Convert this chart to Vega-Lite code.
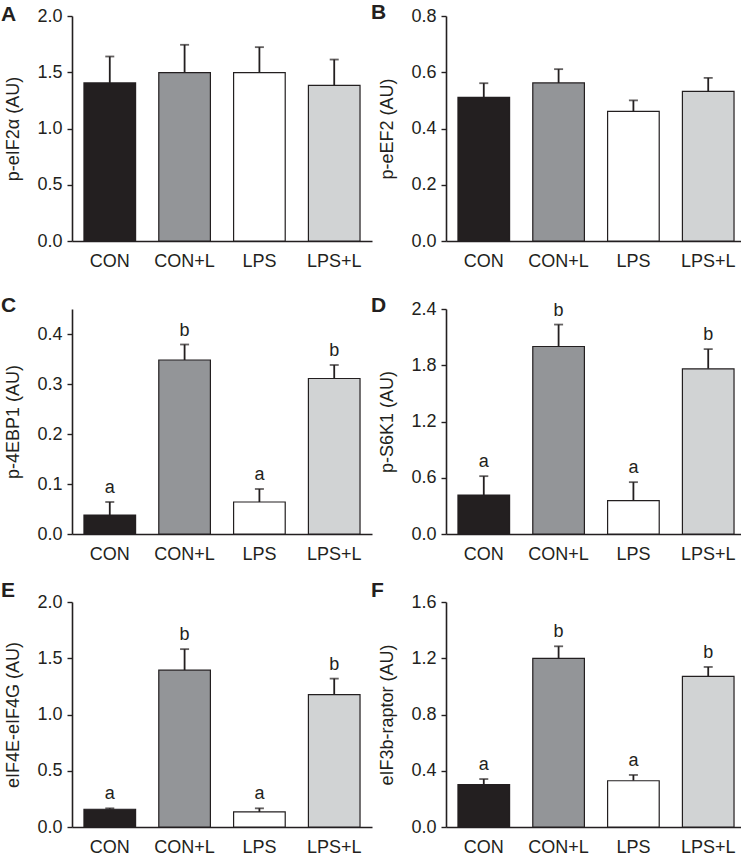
{
  "$schema": "https://vega.github.io/schema/vega-lite/v6.json",
  "padding": {"left": 0, "top": 2, "right": 0, "bottom": 0},
  "background": "white",
  "config": {
    "view": {"stroke": null},
    "font": "Liberation Sans",
    "axis": {
      "grid": false,
      "domainColor": "#231f20",
      "domainWidth": 1.6,
      "tickColor": "#231f20",
      "tickWidth": 1.4,
      "tickSize": 5,
      "labelFont": "Liberation Sans",
      "labelFontSize": 18,
      "labelColor": "#231f20",
      "titleFont": "Liberation Sans",
      "titleFontSize": 18,
      "titleFontWeight": "normal",
      "titleColor": "#231f20"
    },
    "title": {"font": "Liberation Sans", "fontSize": 21, "fontWeight": "bold", "color": "#231f20", "anchor": "start", "frame": "bounds", "offset": 0}
  },
  "data": {"values": [
    {"panel": "A", "group": "CON", "mean": 1.405, "upper": 1.64, "letter": ""},
    {"panel": "A", "group": "CON+L", "mean": 1.497, "upper": 1.744, "letter": ""},
    {"panel": "A", "group": "LPS", "mean": 1.497, "upper": 1.723, "letter": ""},
    {"panel": "A", "group": "LPS+L", "mean": 1.384, "upper": 1.613, "letter": ""},
    {"panel": "B", "group": "CON", "mean": 0.511, "upper": 0.561, "letter": ""},
    {"panel": "B", "group": "CON+L", "mean": 0.562, "upper": 0.611, "letter": ""},
    {"panel": "B", "group": "LPS", "mean": 0.461, "upper": 0.5, "letter": ""},
    {"panel": "B", "group": "LPS+L", "mean": 0.532, "upper": 0.58, "letter": ""},
    {"panel": "C", "group": "CON", "mean": 0.038, "upper": 0.064, "letter": "a"},
    {"panel": "C", "group": "CON+L", "mean": 0.348, "upper": 0.379, "letter": "b"},
    {"panel": "C", "group": "LPS", "mean": 0.064, "upper": 0.09, "letter": "a"},
    {"panel": "C", "group": "LPS+L", "mean": 0.311, "upper": 0.338, "letter": "b"},
    {"panel": "D", "group": "CON", "mean": 0.415, "upper": 0.617, "letter": "a"},
    {"panel": "D", "group": "CON+L", "mean": 2.0, "upper": 2.234, "letter": "b"},
    {"panel": "D", "group": "LPS", "mean": 0.355, "upper": 0.553, "letter": "a"},
    {"panel": "D", "group": "LPS+L", "mean": 1.762, "upper": 1.972, "letter": "b"},
    {"panel": "E", "group": "CON", "mean": 0.158, "upper": 0.166, "letter": "a"},
    {"panel": "E", "group": "CON+L", "mean": 1.394, "upper": 1.581, "letter": "b"},
    {"panel": "E", "group": "LPS", "mean": 0.134, "upper": 0.166, "letter": "a"},
    {"panel": "E", "group": "LPS+L", "mean": 1.177, "upper": 1.319, "letter": "b"},
    {"panel": "F", "group": "CON", "mean": 0.301, "upper": 0.341, "letter": "a"},
    {"panel": "F", "group": "CON+L", "mean": 1.199, "upper": 1.285, "letter": "b"},
    {"panel": "F", "group": "LPS", "mean": 0.329, "upper": 0.37, "letter": "a"},
    {"panel": "F", "group": "LPS+L", "mean": 1.071, "upper": 1.138, "letter": "b"}
  ]},
  "columns": 2,
  "bounds": "flush",
  "spacing": {"row": 68, "column": 74},
  "resolve": {"scale": {"fill": "shared"}},
  "concat": [
    {
      "title": {"text": "A", "dy": 22, "dx": -4},
      "width": 300, "height": 225,
      "transform": [{"filter": "datum.panel == 'A'"}],
      "encoding": {"x": {"field": "group", "type": "nominal", "sort": ["CON", "CON+L", "LPS", "LPS+L"], "scale": {"paddingInner": 0.31, "paddingOuter": 0.16}, "axis": {"title": null, "ticks": false, "labelAngle": 0, "labelPadding": 11}}},
      "layer": [
        {"mark": {"type": "rule", "color": "#231f20", "strokeWidth": 1.8}, "encoding": {"y": {"field": "mean", "type": "quantitative", "scale": {"domain": [0, 2], "nice": false}, "axis": {"title": "p-eIF2α (AU)", "values": [0, 0.25, 0.5, 0.75, 1, 1.25, 1.5, 1.75, 2], "labelExpr": "round(datum.value / 0.25) % 2 == 0 ? format(datum.value, '.1f') : ''", "labelOverlap": false, "labelPadding": 5, "titlePadding": 14}}, "y2": {"field": "upper"}}},
        {"mark": {"type": "tick", "color": "#231f20", "thickness": 1.8, "size": 9}, "encoding": {"y": {"field": "upper", "type": "quantitative"}}},
        {"mark": {"type": "bar", "stroke": "#231f20", "strokeWidth": 1.2}, "encoding": {"y": {"field": "mean", "type": "quantitative"}, "fill": {"field": "group", "type": "nominal", "scale": {"domain": ["CON", "CON+L", "LPS", "LPS+L"], "range": ["#231f20", "#939598", "#ffffff", "#d1d3d4"]}, "legend": null}}},
        {"mark": {"type": "text", "baseline": "bottom", "dy": -5, "fontSize": 18, "color": "#231f20", "font": "Liberation Sans"}, "encoding": {"y": {"field": "upper", "type": "quantitative"}, "text": {"field": "letter"}}}
      ]
    },
    {
      "title": {"text": "B", "dy": 20, "dx": -8},
      "width": 300, "height": 225,
      "transform": [{"filter": "datum.panel == 'B'"}],
      "encoding": {"x": {"field": "group", "type": "nominal", "sort": ["CON", "CON+L", "LPS", "LPS+L"], "scale": {"paddingInner": 0.31, "paddingOuter": 0.16}, "axis": {"title": null, "ticks": false, "labelAngle": 0, "labelPadding": 11}}},
      "layer": [
        {"mark": {"type": "rule", "color": "#231f20", "strokeWidth": 1.8}, "encoding": {"y": {"field": "mean", "type": "quantitative", "scale": {"domain": [0, 0.8], "nice": false}, "axis": {"title": "p-eEF2 (AU)", "values": [0, 0.1, 0.2, 0.3, 0.4, 0.5, 0.6, 0.7, 0.8], "labelExpr": "round(datum.value / 0.1) % 2 == 0 ? format(datum.value, '.1f') : ''", "labelOverlap": false, "labelPadding": 5, "titlePadding": 14}}, "y2": {"field": "upper"}}},
        {"mark": {"type": "tick", "color": "#231f20", "thickness": 1.8, "size": 9}, "encoding": {"y": {"field": "upper", "type": "quantitative"}}},
        {"mark": {"type": "bar", "stroke": "#231f20", "strokeWidth": 1.2}, "encoding": {"y": {"field": "mean", "type": "quantitative"}, "fill": {"field": "group", "type": "nominal", "scale": {"domain": ["CON", "CON+L", "LPS", "LPS+L"], "range": ["#231f20", "#939598", "#ffffff", "#d1d3d4"]}, "legend": null}}},
        {"mark": {"type": "text", "baseline": "bottom", "dy": -5, "fontSize": 18, "color": "#231f20", "font": "Liberation Sans"}, "encoding": {"y": {"field": "upper", "type": "quantitative"}, "text": {"field": "letter"}}}
      ]
    },
    {
      "title": {"text": "C", "dy": 11, "dx": -4},
      "width": 300, "height": 225,
      "transform": [{"filter": "datum.panel == 'C'"}],
      "encoding": {"x": {"field": "group", "type": "nominal", "sort": ["CON", "CON+L", "LPS", "LPS+L"], "scale": {"paddingInner": 0.31, "paddingOuter": 0.16}, "axis": {"title": null, "ticks": false, "labelAngle": 0, "labelPadding": 11}}},
      "layer": [
        {"mark": {"type": "rule", "color": "#231f20", "strokeWidth": 1.8}, "encoding": {"y": {"field": "mean", "type": "quantitative", "scale": {"domain": [0, 0.45], "nice": false}, "axis": {"title": "p-4EBP1 (AU)", "values": [0, 0.05, 0.1, 0.15, 0.2, 0.25, 0.3, 0.35, 0.4, 0.45], "labelExpr": "round(datum.value / 0.05) % 2 == 0 ? format(datum.value, '.1f') : ''", "labelOverlap": false, "labelPadding": 5, "titlePadding": 14}}, "y2": {"field": "upper"}}},
        {"mark": {"type": "tick", "color": "#231f20", "thickness": 1.8, "size": 9}, "encoding": {"y": {"field": "upper", "type": "quantitative"}}},
        {"mark": {"type": "bar", "stroke": "#231f20", "strokeWidth": 1.2}, "encoding": {"y": {"field": "mean", "type": "quantitative"}, "fill": {"field": "group", "type": "nominal", "scale": {"domain": ["CON", "CON+L", "LPS", "LPS+L"], "range": ["#231f20", "#939598", "#ffffff", "#d1d3d4"]}, "legend": null}}},
        {"mark": {"type": "text", "baseline": "bottom", "dy": -5, "fontSize": 18, "color": "#231f20", "font": "Liberation Sans"}, "encoding": {"y": {"field": "upper", "type": "quantitative"}, "text": {"field": "letter"}}}
      ]
    },
    {
      "title": {"text": "D", "dy": 20, "dx": -8},
      "width": 300, "height": 225,
      "transform": [{"filter": "datum.panel == 'D'"}],
      "encoding": {"x": {"field": "group", "type": "nominal", "sort": ["CON", "CON+L", "LPS", "LPS+L"], "scale": {"paddingInner": 0.31, "paddingOuter": 0.16}, "axis": {"title": null, "ticks": false, "labelAngle": 0, "labelPadding": 11}}},
      "layer": [
        {"mark": {"type": "rule", "color": "#231f20", "strokeWidth": 1.8}, "encoding": {"y": {"field": "mean", "type": "quantitative", "scale": {"domain": [0, 2.4], "nice": false}, "axis": {"title": "p-S6K1 (AU)", "values": [0, 0.3, 0.6, 0.9, 1.2, 1.5, 1.8, 2.1, 2.4], "labelExpr": "round(datum.value / 0.3) % 2 == 0 ? format(datum.value, '.1f') : ''", "labelOverlap": false, "labelPadding": 5, "titlePadding": 14}}, "y2": {"field": "upper"}}},
        {"mark": {"type": "tick", "color": "#231f20", "thickness": 1.8, "size": 9}, "encoding": {"y": {"field": "upper", "type": "quantitative"}}},
        {"mark": {"type": "bar", "stroke": "#231f20", "strokeWidth": 1.2}, "encoding": {"y": {"field": "mean", "type": "quantitative"}, "fill": {"field": "group", "type": "nominal", "scale": {"domain": ["CON", "CON+L", "LPS", "LPS+L"], "range": ["#231f20", "#939598", "#ffffff", "#d1d3d4"]}, "legend": null}}},
        {"mark": {"type": "text", "baseline": "bottom", "dy": -5, "fontSize": 18, "color": "#231f20", "font": "Liberation Sans"}, "encoding": {"y": {"field": "upper", "type": "quantitative"}, "text": {"field": "letter"}}}
      ]
    },
    {
      "title": {"text": "E", "dy": 12, "dx": -4},
      "width": 300, "height": 225,
      "transform": [{"filter": "datum.panel == 'E'"}],
      "encoding": {"x": {"field": "group", "type": "nominal", "sort": ["CON", "CON+L", "LPS", "LPS+L"], "scale": {"paddingInner": 0.31, "paddingOuter": 0.16}, "axis": {"title": null, "ticks": false, "labelAngle": 0, "labelPadding": 11}}},
      "layer": [
        {"mark": {"type": "rule", "color": "#231f20", "strokeWidth": 1.8}, "encoding": {"y": {"field": "mean", "type": "quantitative", "scale": {"domain": [0, 2], "nice": false}, "axis": {"title": "eIF4E-eIF4G (AU)", "values": [0, 0.25, 0.5, 0.75, 1, 1.25, 1.5, 1.75, 2], "labelExpr": "round(datum.value / 0.25) % 2 == 0 ? format(datum.value, '.1f') : ''", "labelOverlap": false, "labelPadding": 5, "titlePadding": 14}}, "y2": {"field": "upper"}}},
        {"mark": {"type": "tick", "color": "#231f20", "thickness": 1.8, "size": 9}, "encoding": {"y": {"field": "upper", "type": "quantitative"}}},
        {"mark": {"type": "bar", "stroke": "#231f20", "strokeWidth": 1.2}, "encoding": {"y": {"field": "mean", "type": "quantitative"}, "fill": {"field": "group", "type": "nominal", "scale": {"domain": ["CON", "CON+L", "LPS", "LPS+L"], "range": ["#231f20", "#939598", "#ffffff", "#d1d3d4"]}, "legend": null}}},
        {"mark": {"type": "text", "baseline": "bottom", "dy": -5, "fontSize": 18, "color": "#231f20", "font": "Liberation Sans"}, "encoding": {"y": {"field": "upper", "type": "quantitative"}, "text": {"field": "letter"}}}
      ]
    },
    {
      "title": {"text": "F", "dy": 12, "dx": -8},
      "width": 300, "height": 225,
      "transform": [{"filter": "datum.panel == 'F'"}],
      "encoding": {"x": {"field": "group", "type": "nominal", "sort": ["CON", "CON+L", "LPS", "LPS+L"], "scale": {"paddingInner": 0.31, "paddingOuter": 0.16}, "axis": {"title": null, "ticks": false, "labelAngle": 0, "labelPadding": 11}}},
      "layer": [
        {"mark": {"type": "rule", "color": "#231f20", "strokeWidth": 1.8}, "encoding": {"y": {"field": "mean", "type": "quantitative", "scale": {"domain": [0, 1.6], "nice": false}, "axis": {"title": "eIF3b-raptor (AU)", "values": [0, 0.2, 0.4, 0.6, 0.8, 1.0, 1.2, 1.4, 1.6], "labelExpr": "round(datum.value / 0.2) % 2 == 0 ? format(datum.value, '.1f') : ''", "labelOverlap": false, "labelPadding": 5, "titlePadding": 14}}, "y2": {"field": "upper"}}},
        {"mark": {"type": "tick", "color": "#231f20", "thickness": 1.8, "size": 9}, "encoding": {"y": {"field": "upper", "type": "quantitative"}}},
        {"mark": {"type": "bar", "stroke": "#231f20", "strokeWidth": 1.2}, "encoding": {"y": {"field": "mean", "type": "quantitative"}, "fill": {"field": "group", "type": "nominal", "scale": {"domain": ["CON", "CON+L", "LPS", "LPS+L"], "range": ["#231f20", "#939598", "#ffffff", "#d1d3d4"]}, "legend": null}}},
        {"mark": {"type": "text", "baseline": "bottom", "dy": -5, "fontSize": 18, "color": "#231f20", "font": "Liberation Sans"}, "encoding": {"y": {"field": "upper", "type": "quantitative"}, "text": {"field": "letter"}}}
      ]
    }
  ]
}
